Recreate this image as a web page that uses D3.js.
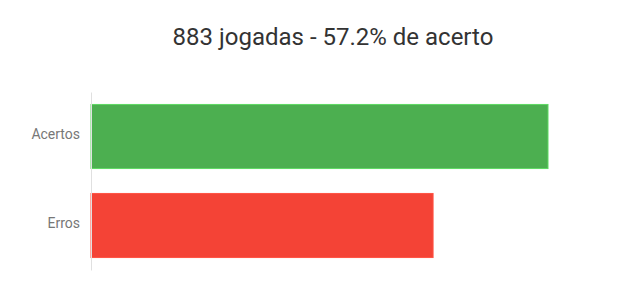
<!DOCTYPE html>
<html>
<head>
<meta charset="utf-8">
<script src="https://cdn.jsdelivr.net/npm/d3@7"></script>
<style>
  body { margin: 0; background: #fff; }
  svg { display: block; font-family: Roboto, sans-serif; }
</style>
</head>
<body>
<svg id="chart" width="640" height="297"></svg>
<script>
// Data
const categories = ["Acertos", "Erros"];
const values = [505, 378];
const colors = ["#4CAF50", "#F44336"];
const total = values[0] + values[1];
const titleText = `${total} jogadas - ${(values[0] / total * 100).toFixed(1)}% de acerto`;

const svg = d3.select("#chart");
const margin = { top: 92, right: 92, bottom: 27, left: 91 };
const width = +svg.attr("width") - margin.left - margin.right;
const height = +svg.attr("height") - margin.top - margin.bottom;
const g = svg.append("g").attr("transform", `translate(${margin.left},${margin.top})`);

// Scales
const xScale = d3.scaleLinear()
    .domain([0, d3.max(values)])
    .range([0, width]);

const yScale = d3.scaleBand()
    .domain(categories)
    .range([0, height])
    .paddingInner(0.28)
    .paddingOuter(0.14);

// Title
svg.append("text")
    .attr("x", 333)
    .attr("y", 45)
    .attr("text-anchor", "middle")
    .attr("fill", "#333")
    .style("font-size", "24px")
    .text(titleText);

// Bars
g.selectAll("rect")
    .data(values)
    .enter().append("rect")
    .attr("x", 0)
    .attr("y", (d, i) => yScale(categories[i]))
    .attr("width", d => xScale(d))
    .attr("height", yScale.bandwidth())
    .attr("fill", (d, i) => colors[i])
    .attr("stroke", (d, i) => d3.color(colors[i]).brighter(0.6))
    .attr("stroke-width", 1);

// Y Axis
const yAxis = g.append("g")
    .call(d3.axisLeft(yScale).tickSize(0).tickPadding(11));
yAxis.select(".domain").attr("stroke", "#e0e0e0");
yAxis.selectAll("text")
    .attr("fill", "#777")
    .attr("dy", "0.2em")
    .style("font-size", "14px")
    .style("font-family", "Roboto, sans-serif");
</script>
</body>
</html>
